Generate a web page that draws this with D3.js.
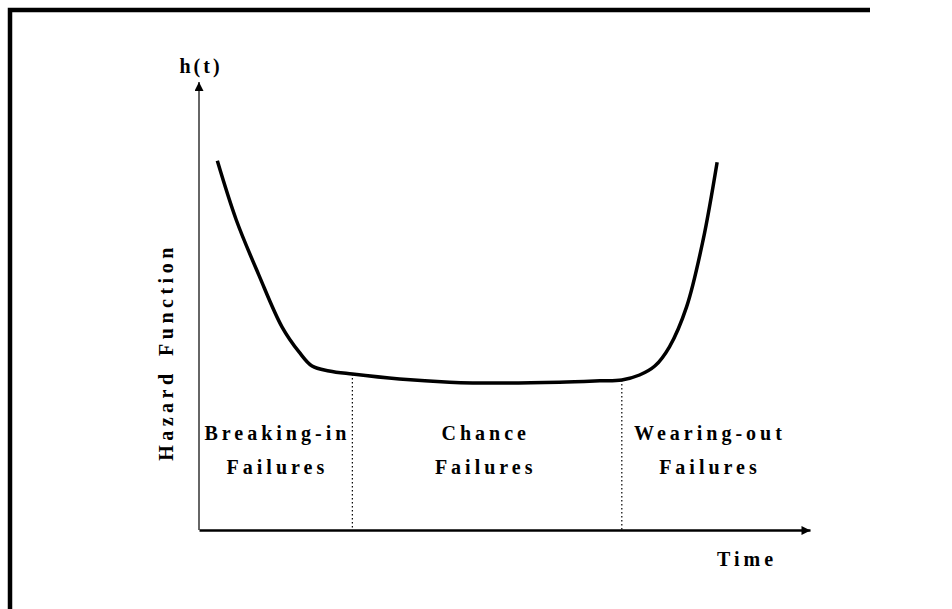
<!DOCTYPE html>
<html>
<head>
<meta charset="utf-8">
<script src="https://cdn.jsdelivr.net/npm/d3@7"></script>
<style>
  html, body { margin: 0; padding: 0; background: #fff; }
  text { font-family: "Liberation Serif", "DejaVu Serif", serif; font-weight: bold; fill: #000; }
</style>
</head>
<body>
<div id="chart"></div>
<script>
// bathtub hazard curve
const timeVals = [0.30, 0.61, 0.98, 1.36, 1.64, 1.85, 2.13, 2.51, 3.28, 4.10, 4.92, 5.90, 6.56, 6.92, 7.21, 7.46, 7.70, 7.98, 8.25, 8.48];
const hazardVals = [8.24, 6.92, 5.69, 4.53, 3.97, 3.66, 3.55, 3.48, 3.37, 3.30, 3.28, 3.30, 3.33, 3.35, 3.46, 3.66, 4.09, 4.98, 6.47, 8.21];

// phase boundaries (time) and labels
const boundaries = [2.51, 6.92];
const phaseCenters = [1.25, 4.66, 8.33];
const phaseLabels = [["Breaking-in", "Failures"], ["Chance", "Failures"], ["Wearing-out", "Failures"]];

const width = 952;
const height = 609;

const svg = d3.select("#chart").append("svg")
    .attr("width", width)
    .attr("height", height);

// scanned frame: only left and top edges survive
svg.append("path")
    .attr("d", "M10,609 V10 H870")
    .attr("fill", "none")
    .attr("stroke", "#000")
    .attr("stroke-width", 4.5);

const x = d3.scaleLinear().domain([0, 10]).range([199, 810]);
const y = d3.scaleLinear().domain([0, 10]).range([530, 82]);

const defs = svg.append("defs");
defs.append("marker")
    .attr("id", "arrow")
    .attr("viewBox", "0 0 10 10")
    .attr("refX", 10).attr("refY", 5)
    .attr("markerUnits", "userSpaceOnUse")
    .attr("markerWidth", 26).attr("markerHeight", 9)
    .attr("orient", "auto")
    .append("path")
    .attr("d", "M0,0 L10,5 L0,10 Z")
    .attr("fill", "#000");

// axes: only the domain lines, no ticks
const xAxis = svg.append("g")
    .attr("transform", `translate(0,${y(0)})`)
    .call(d3.axisBottom(x).tickValues([]).tickSizeOuter(0));
xAxis.select(".domain")
    .attr("stroke-width", 2.5)
    .attr("marker-end", "url(#arrow)");

const yAxis = svg.append("g")
    .attr("transform", `translate(${x(0)},0)`)
    .call(d3.axisLeft(y).tickValues([]).tickSizeOuter(0));
yAxis.select(".domain")
    .attr("d", `M0,${y(0)}V${y(10)}`)
    .attr("stroke", "#333")
    .attr("stroke-width", 1.5)
    .attr("marker-end", "url(#arrow)");

// dotted dividers from curve down to axis
const curveAt = t => {
    const i = d3.bisector(d => d).left(timeVals, t);
    if (i <= 0) return hazardVals[0];
    const t0 = timeVals[i - 1], t1 = timeVals[i];
    const k = (t - t0) / (t1 - t0);
    return hazardVals[i - 1] + k * (hazardVals[i] - hazardVals[i - 1]);
};

svg.selectAll(".divider")
    .data(boundaries)
    .enter()
    .append("line")
    .attr("class", "divider")
    .attr("x1", d => x(d)).attr("x2", d => x(d))
    .attr("y1", d => y(curveAt(d)))
    .attr("y2", y(0))
    .attr("stroke", "#000")
    .attr("stroke-width", 1.2)
    .attr("stroke-dasharray", "1.5,2.5");

// the curve
const points = timeVals.map((t, i) => [t, hazardVals[i]]);
svg.append("path")
    .datum(points)
    .attr("fill", "none")
    .attr("stroke", "#000")
    .attr("stroke-width", 3.5)
    .attr("d", d3.line().x(d => x(d[0])).y(d => y(d[1])).curve(d3.curveCatmullRom));

// phase labels
phaseLabels.forEach((lines, i) => {
    const cx = x(phaseCenters[i]) + 2;
    const t = svg.append("text")
        .attr("x", cx)
        .attr("y", 440)
        .attr("text-anchor", "middle")
        .attr("font-size", 20)
        .attr("letter-spacing", 4);
    lines.forEach((s, j) => {
        t.append("tspan")
            .attr("x", cx)
            .attr("dy", j === 0 ? 0 : 34)
            .text(s);
    });
});

// axis titles
svg.append("text")
    .attr("x", x(0) + 2)
    .attr("y", 73)
    .attr("text-anchor", "middle")
    .attr("font-size", 20)
    .attr("letter-spacing", 3)
    .text("h(t)");

svg.append("text")
    .attr("transform", `translate(173,352) rotate(-90)`)
    .attr("text-anchor", "middle")
    .attr("font-size", 20)
    .attr("letter-spacing", 4.5)
    .attr("word-spacing", 4)
    .text("Hazard Function");

svg.append("text")
    .attr("x", 747)
    .attr("y", 566)
    .attr("text-anchor", "middle")
    .attr("font-size", 20)
    .attr("letter-spacing", 4)
    .text("Time");
</script>
</body>
</html>
